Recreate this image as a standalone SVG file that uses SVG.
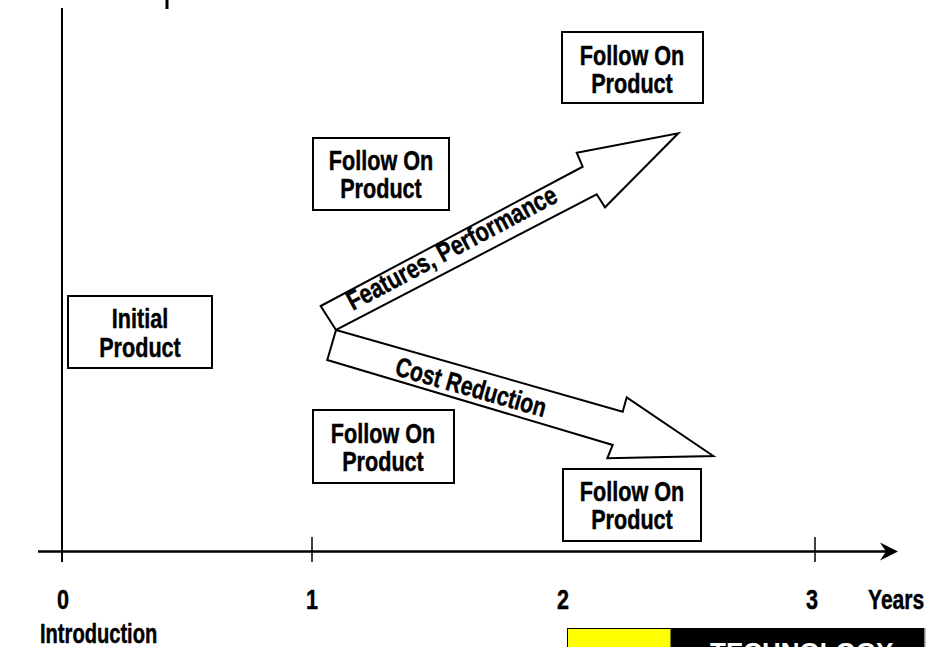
<svg xmlns="http://www.w3.org/2000/svg" width="938" height="647" viewBox="0 0 938 647">
  <style>
    .box { fill: #ffffff; stroke: #000000; stroke-width: 2; }
    .lbl { font-family: "Liberation Sans", Arial, sans-serif; font-weight: bold; font-size: 27px; fill: #000000; stroke: #000000; stroke-width: 0.45; text-anchor: middle; }
    .axis { stroke: #000000; fill: none; }
    .arrow { fill: #ffffff; stroke: #000000; stroke-width: 2; stroke-linejoin: miter; }
  </style>

  <!-- fragment of a mark at the top edge -->
  <rect x="165.5" y="0" width="3" height="9" fill="#000000"/>

  <!-- axes -->
  <g id="axes">
    <line class="axis" x1="62" y1="8" x2="62" y2="562" stroke-width="2"/>
    <line class="axis" x1="38" y1="551.5" x2="892" y2="551.5" stroke-width="2.5"/>
    <polygon points="898,551.5 880,542.5 886,551.5 880,560.5" fill="#000000"/>
    <line class="axis" x1="312" y1="537" x2="312" y2="562" stroke-width="1.5"/>
    <line class="axis" x1="815" y1="537" x2="815" y2="562" stroke-width="1.5"/>
  </g>

  <!-- axis labels -->
  <g id="axis-labels">
    <text class="lbl" transform="translate(63,609) scale(0.8,1)">0</text>
    <text class="lbl" transform="translate(312,609) scale(0.8,1)">1</text>
    <text class="lbl" transform="translate(563,609) scale(0.8,1)">2</text>
    <text class="lbl" transform="translate(812,609) scale(0.8,1)">3</text>
    <text class="lbl" style="text-anchor:start" transform="translate(868,609) scale(0.78,1)">Years</text>
    <text class="lbl" style="text-anchor:start" transform="translate(40,643) scale(0.745,1)">Introduction</text>
  </g>

  <!-- connectors: direction arrows -->
  <g id="connectors">
    <g id="cost-reduction">
      <polygon class="arrow" points="336,330 622.7,411.7 626.7,397.3 713.3,456 607.3,458.3 612.7,445 327.3,360"/>
      <text class="lbl" transform="translate(468.5,396) rotate(15.8) scale(0.78,1)">Cost Reduction</text>
    </g>
    <g id="features-performance">
      <polygon class="arrow" points="320.7,306 582.7,166.7 576.7,152.7 678.3,133.3 605,207.3 596.7,194.3 336,330"/>
      <text class="lbl" transform="translate(456,256) rotate(-28) scale(0.8,1)">Features, Performance</text>
    </g>
  </g>

  <!-- nodes -->
  <g id="initial-product">
    <rect class="box" x="68" y="296" width="144" height="72"/>
    <text class="lbl" transform="translate(140,328) scale(0.8,1)">Initial</text>
    <text class="lbl" transform="translate(140,357) scale(0.8,1)">Product</text>
  </g>
  <g id="follow-on-upper">
    <rect class="box" x="313" y="138" width="136" height="72"/>
    <text class="lbl" transform="translate(381,170) scale(0.8,1)">Follow On</text>
    <text class="lbl" transform="translate(381,198) scale(0.8,1)">Product</text>
  </g>
  <g id="follow-on-top">
    <rect class="box" x="562" y="32" width="141" height="71"/>
    <text class="lbl" transform="translate(632,65) scale(0.8,1)">Follow On</text>
    <text class="lbl" transform="translate(632,93) scale(0.8,1)">Product</text>
  </g>
  <g id="follow-on-lower">
    <rect class="box" x="313" y="410" width="141" height="73"/>
    <text class="lbl" transform="translate(383,443) scale(0.8,1)">Follow On</text>
    <text class="lbl" transform="translate(383,471) scale(0.8,1)">Product</text>
  </g>
  <g id="follow-on-bottom">
    <rect class="box" x="563" y="469" width="138" height="72"/>
    <text class="lbl" transform="translate(632,501) scale(0.8,1)">Follow On</text>
    <text class="lbl" transform="translate(632,529) scale(0.8,1)">Product</text>
  </g>

  <!-- technology banner -->
  <g id="technology">
    <rect x="671" y="628" width="253" height="30" fill="#000000"/>
    <rect x="924" y="628" width="1.5" height="30" fill="#888888"/>
    <rect x="567.5" y="628.5" width="103.5" height="30" fill="#ffff00" stroke="#000000" stroke-width="1"/>
    <text x="710" y="661" font-family="Liberation Sans, Arial, sans-serif" font-weight="bold" font-size="26" fill="#ffffff">TECHNOLOGY</text>
  </g>
</svg>
